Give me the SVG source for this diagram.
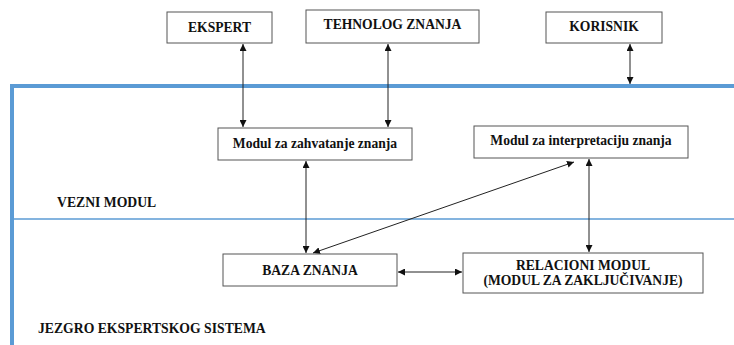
<svg xmlns="http://www.w3.org/2000/svg" width="734" height="345" viewBox="0 0 734 345">
<style>
.box{fill:#fff;stroke:#555;stroke-width:1}
.t{font-family:'Liberation Serif','Times New Roman','DejaVu Serif',serif;font-weight:bold;font-size:13.6px;fill:#111;text-anchor:middle}
.lbl{font-family:'Liberation Serif','Times New Roman','DejaVu Serif',serif;font-weight:bold;font-size:13.7px;fill:#111}
.c{stroke:#222;stroke-width:1;fill:none;marker-start:url(#a);marker-end:url(#a)}
</style>
<defs>
<marker id="a" viewBox="0 0 10 10" refX="10" refY="5" markerWidth="7" markerHeight="7" orient="auto-start-reverse" markerUnits="userSpaceOnUse">
<path d="M0,0 L10,5 L0,10 z" fill="#111"/>
</marker>
</defs>
<rect width="734" height="345" fill="#fff"/>
<g id="regions">
<path d="M12,345 V86 H734" fill="none" stroke="#5b9bd5" stroke-width="4"/>
<line x1="12" y1="219" x2="734" y2="219" stroke="#5b9bd5" stroke-width="1.5"/>
<text class="lbl" x="57" y="207">VEZNI MODUL</text>
<text class="lbl" x="38" y="333">JEZGRO EKSPERTSKOG SISTEMA</text>
</g>
<g id="connectors">
<line class="c" x1="243" y1="44" x2="243" y2="127"/>
<line class="c" x1="388" y1="44" x2="388" y2="127"/>
<line class="c" x1="630" y1="44" x2="630" y2="84"/>
<line class="c" x1="306" y1="161" x2="306" y2="253"/>
<line class="c" x1="589" y1="159" x2="589" y2="252"/>
<line class="c" x1="574" y1="162" x2="313" y2="253"/>
<line class="c" x1="398" y1="272" x2="462" y2="272"/>
</g>
<g id="ekspert"><rect class="box" x="167" y="12" width="105" height="31"/><text class="t" x="219.5" y="32">EKSPERT</text></g>
<g id="tehnolog"><rect class="box" x="306" y="10" width="173" height="33"/><text class="t" x="392.5" y="29">TEHNOLOG ZNANJA</text></g>
<g id="korisnik"><rect class="box" x="546" y="12" width="116" height="31"/><text class="t" x="604" y="31">KORISNIK</text></g>
<g id="zahvatanje"><rect class="box" x="218" y="128" width="194" height="32"/><text class="t" x="315" y="148">Modul za zahvatanje znanja</text></g>
<g id="interpretacija"><rect class="box" x="474" y="126" width="214" height="32"/><text class="t" x="581" y="145">Modul za interpretaciju znanja</text></g>
<g id="baza"><rect class="box" x="223" y="254" width="174" height="32"/><text class="t" x="310" y="275">BAZA ZNANJA</text></g>
<g id="relacioni"><rect class="box" x="463" y="253" width="240" height="40"/><text class="t" x="583" y="270">RELACIONI MODUL</text><text class="t" x="583" y="285">(MODUL ZA ZAKLJUČIVANJE)</text></g>
</svg>
